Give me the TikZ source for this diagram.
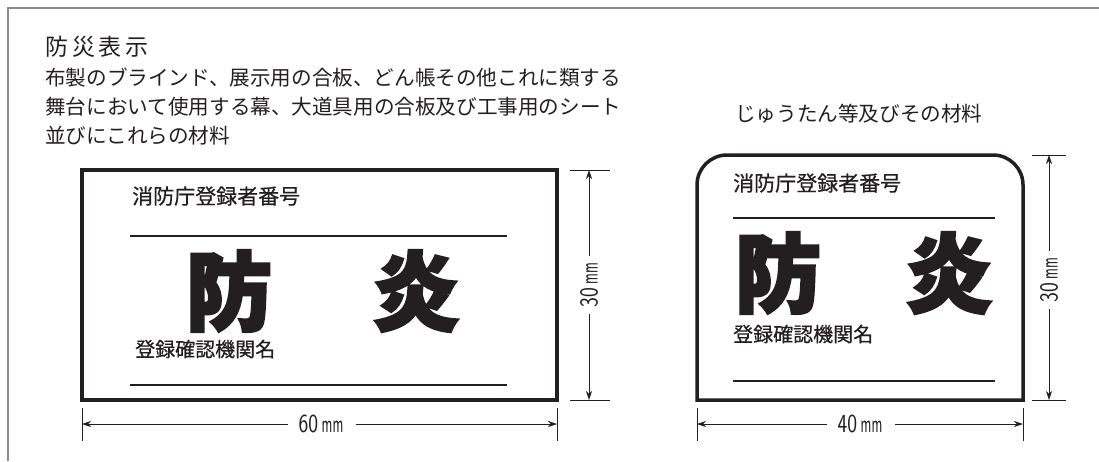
\documentclass[tikz,border=0pt]{standalone}
\usepackage{fontspec}
\usetikzlibrary{arrows.meta}
\newfontfamily\jp{Noto Sans CJK JP}
\newfontfamily\jpmed{Noto Sans CJK JP}[FakeBold=0.6]
\newfontfamily\jpbig{Noto Sans CJK JP}[FakeBold=3]
\definecolor{ink}{HTML}{231F20}
\definecolor{frame}{HTML}{8A8A8A}
\newcommand{\dimlab}[1]{\scalebox{0.8}[1]{#1\,\scalebox{0.7}[1]{mm}}}
\tikzset{
  txt/.style={inner sep=0pt, anchor=west, text=ink, font=\jp},
  body/.style={txt, font=\jp\fontsize{20.6}{22}\selectfont},
  lbl/.style={txt, font=\jpmed\fontsize{21}{23}\selectfont},
  lblb/.style={txt, font=\jpmed\fontsize{20}{22}\selectfont},
  big/.style={inner sep=0pt, anchor=center, text=ink, font=\jpbig\bfseries\fontsize{86}{90}\selectfont},
  plate/.style={draw=ink, line width=3.5pt},
  rule/.style={draw=ink, line width=1.3pt},
  dim/.style={draw=ink, line width=0.6pt},
  dimarr/.style={dim, -{Stealth[length=9pt,width=6pt]}},
  dimtxt/.style={inner sep=0pt, fill=white, text=ink, font=\sffamily\fontsize{26}{28}\selectfont},
}
\begin{document}
\begin{tikzpicture}[x=1pt,y=-1pt]
\useasboundingbox (0,0) rectangle (1099,461);
\draw[frame, line width=1.5pt] (8,461) -- (8,8) -- (1099,8);

% headings
\node[txt, font=\jp\fontsize{23}{25}\selectfont] (title) at (45,47) {防\,災\,表\,示};
\node[body] (l1) at (45,78) {布製のブラインド、展示用の合板、どん帳その他これに類する};
\node[body] (l2) at (45,107) {舞台において使用する幕、大道具用の合板及び工事用のシート};
\node[body] (l3) at (45,136) {並びにこれらの材料};
\node[body] (r1) at (735,114) {じゅうたん等及びその材料};

% left plate
\draw[plate] (82,170) rectangle (557,400);
\draw[rule] (130,236) -- (507,236);
\draw[rule] (130,385) -- (507,385);
\node[lbl] (a1) at (132,196) {消防庁登録者番号};
\node[lblb] (a2) at (135,349) {登録確認機関名};
\node[big] (a3) at (229,291) {防};
\node[big] (a4) at (416,291) {炎};

% left dims
\coordinate (lt1) at (82,408); \coordinate (lt2) at (82,441);
\coordinate (rt1) at (557,408); \coordinate (rt2) at (557,441);
\draw[dim] (lt1) -- (lt2); \draw[dim] (rt1) -- (rt2);
\node[dimtxt] (w60) at (321,424) {\dimlab{60}};
\coordinate (wl) at (82,424); \coordinate (wr) at (557,424);
\draw[dimarr] (w60.west) ++(-10,0) -- (wl);
\draw[dimarr] (w60.east) ++(12,0) -- (wr);

\coordinate (ht1) at (570,170); \coordinate (ht2) at (610,170);
\coordinate (hb1) at (570,400); \coordinate (hb2) at (610,400);
\draw[dim] (ht1) -- (ht2); \draw[dim] (hb1) -- (hb2);
\node[dimtxt, rotate=90] (h30) at (589,285) {\dimlab{30}};
\coordinate (ht) at (589,170); \coordinate (hb) at (589,400);
\draw[dimarr] (h30.east) ++(0,-6) -- (ht);
\draw[dimarr] (h30.west) ++(0,6) -- (hb);

% right plate
\draw[plate] (697,400) -- (697,185) arc[start angle=180, end angle=270, radius=30] -- (993,155) arc[start angle=270, end angle=360, radius=30] -- (1023,400) -- cycle;
\draw[rule] (733,218) -- (995,218);
\draw[rule] (733,381) -- (995,381);
\node[lbl] (b1) at (733,183) {消防庁登録者番号};
\node[lblb] (b2) at (733,334) {登録確認機関名};
\node[big] (b3) at (778,273) {防};
\node[big] (b4) at (949,273) {炎};

% right dims
\coordinate (lt3) at (697,408); \coordinate (lt4) at (697,441);
\coordinate (rt3) at (1023,408); \coordinate (rt4) at (1023,441);
\draw[dim] (lt3) -- (lt4); \draw[dim] (rt3) -- (rt4);
\node[dimtxt] (w40) at (860,424) {\dimlab{40}};
\coordinate (wl2) at (697,424); \coordinate (wr2) at (1023,424);
\draw[dimarr] (w40.west) ++(-10,0) -- (wl2);
\draw[dimarr] (w40.east) ++(12,0) -- (wr2);

\coordinate (ht3) at (1032,155); \coordinate (ht4) at (1066,155);
\coordinate (hb3) at (1032,400); \coordinate (hb4) at (1066,400);
\draw[dim] (ht3) -- (ht4); \draw[dim] (hb3) -- (hb4);
\node[dimtxt, rotate=90] (h30b) at (1049,280) {\dimlab{30}};
\coordinate (ht5) at (1049,155); \coordinate (hb5) at (1049,400);
\draw[dimarr] (h30b.east) ++(0,-6) -- (ht5);
\draw[dimarr] (h30b.west) ++(0,6) -- (hb5);
\end{tikzpicture}
\end{document}
